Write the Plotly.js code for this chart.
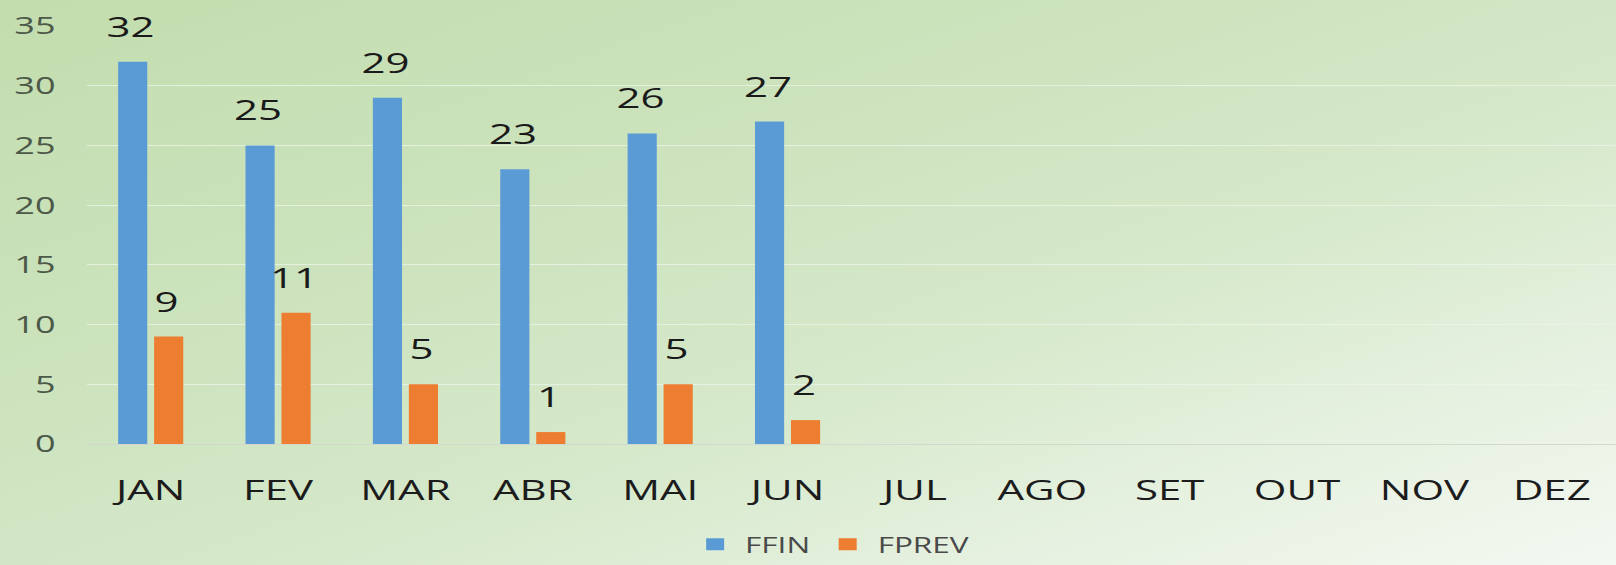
<!DOCTYPE html>
<html>
<head>
<meta charset="utf-8">
<script src="https://cdn.plot.ly/plotly-3.0.1.min.js"></script>
<style>
  html, body { margin: 0; padding: 0; }
  body {
    width: 1616px; height: 565px; overflow: hidden;
    background: linear-gradient(to bottom right, #c3ddae 0%, #cce3bd 35%, #d6e9cb 60%, #e6f1e0 80%, #f3f8f1 100%);
  }
  #chart {
    width: 1077px; height: 565px;
    transform: scaleX(1.5); transform-origin: 0 0;
  }
</style>
</head>
<body>
<div id="chart"></div>
<script>
// ---- data ----
const months = ["JAN","FEV","MAR","ABR","MAI","JUN","JUL","AGO","SET","OUT","NOV","DEZ"];
const ffin   = [32, 25, 29, 23, 26, 27, null, null, null, null, null, null];
const fprev  = [9, 11, 5, 1, 5, 2, null, null, null, null, null, null];
const seriesNames = ["FFIN", "FPREV"];
const seriesColors = ["#5b9bd5", "#ed7d31"];
const yTicks = [0, 5, 10, 15, 20, 25, 30, 35];

const FONT = "Open Sans, Liberation Sans, sans-serif";
const barShift = 12; // px offset of each bar from group centre (unscaled)

const traces = [ffin, fprev].map((vals, i) => ({
  type: "bar",
  name: seriesNames[i],
  x: months,
  y: vals,
  marker: { color: seriesColors[i] },
  hoverinfo: "x+y+name"
}));

const annotations = [];
[ffin, fprev].forEach((vals, i) => {
  vals.forEach((v, k) => {
    if (v === null) return;
    annotations.push({
      x: months[k], y: v, xref: "x", yref: "y",
      text: String(v), showarrow: false,
      xanchor: "center", yanchor: "bottom",
      xshift: (i === 0 ? -1 : 1) * barShift - 1,
      yshift: 15,
      font: { family: FONT, size: 28, color: "#1a1a1a" }
    });
  });
});

const layout = {
  width: 1077, height: 565,
  margin: { l: 58, r: 0, t: 26, b: 121, autoexpand: false },
  paper_bgcolor: "rgba(0,0,0,0)",
  plot_bgcolor: "rgba(0,0,0,0)",
  barmode: "group",
  bargap: 0.435,
  bargroupgap: 0.19,
  showlegend: true,
  legend: {
    orientation: "h", x: 0.487, xanchor: "center",
    yref: "container", y: 0.036, yanchor: "middle",
    font: { family: FONT, size: 21, color: "#4a4a4a" },
    bgcolor: "rgba(0,0,0,0)"
  },
  xaxis: {
    type: "category",
    categoryorder: "array", categoryarray: months,
    range: [-0.5, 11.5],
    showgrid: false,
    showline: true, linecolor: "#d3d8cf", linewidth: 1,
    ticks: "", ticklabelstandoff: 21,
    tickfont: { family: FONT, size: 28, color: "#1c1c1c" },
    fixedrange: true
  },
  yaxis: {
    range: [0, 35],
    tickmode: "array", tickvals: yTicks, ticktext: yTicks.map(String),
    showgrid: true, gridcolor: "rgba(238,244,235,0.75)", gridwidth: 1,
    zeroline: false, showline: false,
    ticks: "", ticklabelstandoff: 20,
    tickfont: { family: FONT, size: 24, color: "#4c5848" },
    fixedrange: true
  },
  annotations: annotations
};

Plotly.newPlot("chart", traces, layout, { displayModeBar: false, staticPlot: true });
</script>
</body>
</html>
